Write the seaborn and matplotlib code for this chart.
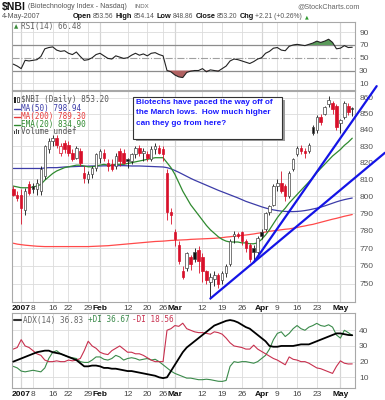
import numpy as np
import pandas as pd
import matplotlib
matplotlib.use("Agg")
import matplotlib.pyplot as plt
import seaborn as sns
from matplotlib.patches import Rectangle
from matplotlib.lines import Line2D
from matplotlib.ticker import NullLocator

# trading days on the chart (Dec 28 2006 .. May 4 2007)
holidays = ["2007-01-01", "2007-01-02", "2007-01-15", "2007-02-19", "2007-04-06"]
dates = pd.bdate_range("2006-12-28", "2007-05-04").drop(pd.to_datetime(holidays))

opens = [804, 801, 801, 792, 807, 806, 804, 803, 812, 828, 833, 835, 826, 832, 831, 826, 823, 827, 814, 810,
         813, 817, 823, 826, 820, 819, 818, 827, 826, 822, 821, 825, 829, 826, 825, 822, 828, 829, 828, 814,
         791, 779, 772, 757, 759, 765, 768, 769, 765, 757, 751, 753, 755, 752, 756, 761, 777, 778, 779, 774,
         772, 770, 768, 779, 781, 791, 795, 806, 808, 806, 800, 816, 825, 829, 827, 827, 842, 840, 848, 850,
         856, 857, 855, 844, 848, 855, 853.56]
highs = [806, 803, 804, 805, 809, 808, 810, 818, 831, 835, 837, 837, 832, 834, 833, 828, 830, 829, 818, 815,
         818, 826, 828, 828, 822, 822, 826, 829, 828, 823, 826, 830, 831, 829, 827, 830, 832, 831, 830, 816,
         793, 781, 774, 760, 768, 766, 770, 771, 767, 758, 756, 757, 756, 757, 761, 775, 780, 779, 780, 775,
         773, 772, 777, 781, 791, 795, 807, 810, 815, 807, 815, 823, 830, 831, 829, 832, 843, 849, 850, 855,
         861, 858, 856, 847, 858, 857, 854.14]
lows = [800, 797, 784, 789, 801, 802, 801, 801, 810, 826, 830, 829, 824, 826, 824, 821, 822, 818, 808, 808,
        811, 815, 820, 821, 815, 815, 816, 818, 819, 817, 819, 823, 824, 821, 821, 821, 825, 825, 821, 786,
        784, 771, 761, 753, 757, 758, 762, 756, 751, 750, 742, 749, 748, 750, 754, 760, 773, 776, 772, 768,
        762, 762, 766, 775, 780, 789, 794, 803, 802, 797, 799, 815, 824, 825, 823, 826, 837, 838, 843, 849,
        854, 850, 840, 838, 847, 849, 848.86]
closes = [801, 799, 793, 803, 802, 804, 808, 816, 830, 833, 835, 831, 830, 828, 826, 822, 829, 820, 811, 813,
          817, 825, 827, 823, 818, 816, 824, 821, 820, 821, 825, 829, 826, 827, 823, 828, 830, 826, 825, 791,
          789, 775, 763, 754, 767, 761, 764, 763, 757, 752, 754, 755, 750, 756, 760, 774, 778, 777, 774, 770,
          764, 768, 776, 777, 790, 794, 806, 808, 803, 800, 814, 822, 829, 827, 826, 831, 838, 848, 845, 854,
          859, 853, 842, 846, 857, 851, 853.20]
prev_close_start = 805

ma50 = [816.5, 816.5, 816.5, 816.5, 816.5, 816.5, 816.5, 816.5, 816.8, 817, 817, 817, 817.2, 817.4, 817.5,
        817.6, 817.7, 817.8, 817.8, 817.9, 818, 818, 818, 818.1, 818.1, 818.2, 818.2, 818.2, 818.2, 818.1,
        818, 818, 818, 817.9, 817.8, 817.7, 817.6, 817.5, 817.4, 817, 816.3, 815.3, 814.2, 813, 811.8,
        810.6, 809.5, 808.5, 807.5, 806.5, 805.5, 804.5, 803.5, 802.6, 801.7, 800.8, 799.9, 799, 798, 797,
        796.2, 795.4, 794.6, 793.8, 793.1, 792.5, 792, 791.6, 791.3, 791.1, 791, 791, 791.1, 791.3, 791.6,
        792, 792.5, 793, 793.6, 794.3, 795.1, 795.9, 796.7, 797.4, 798, 798.5, 798.94]
ma200 = [772.8, 772.3, 772, 771.7, 771.5, 771.3, 771.1, 771, 770.9, 770.9, 770.9, 770.9, 770.9, 770.9, 770.9,
         770.9, 770.9, 770.9, 770.9, 770.9, 771, 771.1, 771.2, 771.3, 771.4, 771.6, 771.8, 772, 772.2, 772.4,
         772.6, 772.8, 773, 773.2, 773.4, 773.6, 773.8, 773.9, 774, 774.2, 774.4, 774.5, 774.6, 774.7, 774.8,
         775, 775.1, 775.2, 775.3, 775.4, 775.5, 775.6, 775.8, 776, 776.3, 776.5, 776.8, 777, 777.3, 777.5,
         777.8, 778.1, 778.5, 778.8, 779.2, 779.6, 779.9, 780.2, 780.5, 780.8, 781, 781.4, 781.8, 782.3,
         782.7, 783.2, 783.6, 784.2, 784.8, 785.4, 786, 786.6, 787.1, 787.7, 788.3, 788.8, 789.3]
ema20 = [806, 805.5, 805, 805, 805, 805.5, 806, 807, 809.5, 811.5, 813.5, 815, 816, 817, 817.5, 818, 818.5,
         818.5, 818, 817.5, 817.5, 818, 818.5, 819, 818.5, 818.5, 819, 819, 819, 819.5, 820, 820.5, 821,
         821.5, 822, 822.5, 823, 823, 823, 820, 817, 813, 808, 803, 799, 795, 792, 789, 786, 783, 780.5,
         778.5, 776.5, 775, 774, 773.5, 773.5, 773.5, 773, 773, 772.5, 772.5, 773, 775, 777.5, 780.5, 784,
         787.5, 790.5, 793, 796, 798.5, 801, 803.5, 806, 808.5, 811, 814, 816.5, 819, 821.5, 824, 826,
         828, 830.5, 832.5, 834.9]

rsi = [40, 37, 33, 46, 45, 46, 47, 52, 64, 66, 67, 62, 60, 61, 57, 55, 59, 52, 46, 47, 50, 55, 57, 53, 49,
       48, 53, 51, 49, 50, 54, 57, 54, 56, 53, 57, 58, 55, 53, 30, 28, 23, 20, 19, 27, 29, 30, 30, 33, 28,
       31, 30, 29, 33, 37, 45, 48, 47, 45, 43, 41, 44, 48, 50, 57, 60, 65, 66, 62, 61, 68, 70, 71, 70, 69,
       71, 73, 76, 74, 76, 79, 74, 64, 65, 69, 66, 66.48]
adx = [20, 21, 22, 23, 24, 25, 26, 26.5, 27, 27, 26, 25.5, 25, 24, 23, 22, 21, 19, 17, 17, 17.5, 17.5, 17, 16,
       16, 15.5, 15.5, 15, 14.5, 14, 14, 13.5, 13, 12.5, 12, 11.5, 11, 10, 9.5, 10, 14, 18, 22, 26, 29, 31,
       33, 35, 37, 39, 41, 43, 44, 45, 46, 46.5, 46, 45, 43.5, 42, 41, 39, 37, 35, 33, 30, 29.5, 29.5, 30,
       30, 30, 30, 30.5, 31, 31, 31, 32, 33, 34, 35, 36, 37, 38, 38, 37.5, 37, 36.83]
plus_di = [17, 16, 14, 13.5, 14, 14.5, 14, 13.5, 16, 22, 26, 27, 25, 24, 23, 22.5, 22, 20, 19.5, 19.5, 21,
           23, 23, 21.5, 21, 22, 24, 23, 21, 22, 22.5, 22, 21, 21.5, 22, 21, 21.5, 20, 18, 16, 14, 12.5,
           11.5, 10.5, 9.5, 9.5, 9, 8.5, 8.5, 8.8, 8.5, 8, 7.5, 7.4, 8, 17, 20, 19.5, 20, 20, 19.5, 19, 20,
           22, 24, 28, 34, 38, 39, 36, 38, 41, 43, 41, 40, 42, 43, 44.4, 43, 42.5, 43.5, 42, 37, 35, 40,
           38.5, 36.67]
minus_di = [28, 29, 34, 30, 29, 27, 25, 24, 21, 20, 20, 20.5, 20, 20, 21, 20.5, 21, 22, 27, 33, 30, 28.5,
            26, 25, 24.5, 27, 28.5, 30, 28, 26, 26, 25, 25, 24, 22.5, 21, 20, 20, 20, 40, 41, 43, 42.5,
            44.5, 41, 40, 39, 38.5, 38.5, 38, 37.5, 39, 38.5, 37.5, 35, 32, 30, 29.5, 29, 28, 28, 30.5,
            28, 26.5, 25, 23.5, 22, 21, 19.5, 18, 23, 21.5, 21, 20, 20, 19, 17.5, 16, 15.5, 14.5, 13.5,
            12.5, 17, 20.5, 19, 18.5, 18.56]

# trendline anchors (day index, price)
trend1_x = [50, 94.3]
trend1_y = [742, 826]
trend2_x = [61, 92.2]
trend2_y = [762, 867.5]

tick_dates = ["2007-01-03", "2007-01-08", "2007-01-16", "2007-01-22", "2007-01-29", "2007-02-01",
              "2007-02-12", "2007-02-20", "2007-02-26", "2007-03-01", "2007-03-12", "2007-03-19",
              "2007-03-26", "2007-04-02", "2007-04-09", "2007-04-16", "2007-04-23", "2007-05-01"]
tick_labels = ["2007", "8", "16", "22", "29", "Feb", "12", "20", "26", "Mar", "12", "19", "26",
               "Apr", "9", "16", "23", "May"]
month_labels = ["2007", "Feb", "Mar", "Apr", "May"]
price_ticks = list(range(750, 861, 10))

note = "Biotechs have paced the way off of\nthe March lows.  How much higher\ncan they go from here?"

RED = "#d8102a"
BLUE_MA = "#3c3ca8"
RED_MA = "#ff4a4a"
GREEN_MA = "#2f8a2f"
GRID = "#dcdcdc"
MONO = "DejaVu Sans Mono"

sns.set_style("white")
plt.rcParams["font.family"] = ["Liberation Sans", "DejaVu Sans"]

W, H = 385, 400
fig = plt.figure(figsize=(W / 100, H / 100), dpi=100)
renderer = fig.canvas.get_renderer()


def box(l, t, r, b):
    return [l / W, 1 - b / H, (r - l) / W, (b - t) / H]


def ftext(x, y, s, **kw):
    kw.setdefault("va", "center")
    return fig.text(x / W, 1 - y / H, s, **kw)


def run_text(x0, y, parts):
    # place pieces of text one after another on a line
    xpos = x0
    for s, kw, gap in parts:
        t = ftext(xpos, y, s, **kw)
        xpos += t.get_window_extent(renderer=renderer).width + gap


ax_rsi = fig.add_axes(box(12, 22, 355, 90))
ax = fig.add_axes(box(12, 91, 355, 302))
ax_adx = fig.add_axes(box(12, 313, 355, 388))

x = np.arange(len(dates))
tick_pos = [dates.get_loc(pd.Timestamp(d)) for d in tick_dates]
month_pos = [p for p, lab in zip(tick_pos, tick_labels) if lab in month_labels]

for a in (ax_rsi, ax, ax_adx):
    a.set_xlim(-0.33, 86.7)
    a.set_xticks(tick_pos)
    a.grid(True, axis="x", color=GRID, lw=0.6)
    for p in month_pos:
        a.axvline(p, color="#b4b4b4", lw=0.8, zorder=0.5)
    for s in a.spines.values():
        s.set_color("#a8a8a8")
        s.set_linewidth(0.8)
    a.yaxis.tick_right()
    a.tick_params(axis="y", length=0, pad=3, labelsize=6, labelcolor="#555555")
    a.tick_params(axis="x", length=0, pad=2.5, labelsize=6, labelcolor="#444444")

# ---------------- RSI panel
rsi_arr = np.array(rsi)
ax_rsi.set_ylim(-0.5, 106)
ax_rsi.set_yticks([10, 30, 50, 70, 90])
for lv in (10, 90):
    ax_rsi.axhline(lv, color=GRID, lw=0.6, zorder=0.5)
ax_rsi.axhline(70, color="#8c8c8c", lw=0.9, zorder=1)
ax_rsi.axhline(30, color="#8c8c8c", lw=0.9, zorder=1)
ax_rsi.axhline(50, color="#a0a0a0", lw=0.8, ls="-.", zorder=1)
ax_rsi.fill_between(x, rsi_arr, 70, where=rsi_arr >= 70, interpolate=True, color="#5a9a5a", lw=0, zorder=2)
ax_rsi.fill_between(x, rsi_arr, 30, where=rsi_arr <= 30, interpolate=True, color="#b06060", lw=0, zorder=2)
sns.lineplot(x=x, y=rsi_arr, ax=ax_rsi, color="#222222", lw=0.8, legend=False, zorder=3)
ax_rsi.set_xticklabels([])
ax_rsi.set_xlabel("")

# ---------------- price panel
ax.set_yscale("log")
ax.set_ylim(740.1, 864.4)
ax.set_yticks(price_ticks)
ax.set_yticklabels([str(v) for v in price_ticks])
ax.yaxis.set_minor_locator(NullLocator())
ax.grid(True, axis="y", color=GRID, lw=0.6)

sns.lineplot(x=x, y=ma200, ax=ax, color=RED_MA, lw=0.9, legend=False, zorder=2)
sns.lineplot(x=x, y=ma50, ax=ax, color=BLUE_MA, lw=0.9, legend=False, zorder=2)
sns.lineplot(x=x, y=ema20, ax=ax, color=GREEN_MA, lw=0.9, legend=False, zorder=2)

cw = 0.62
prev = prev_close_start
for i in range(len(x)):
    o, h, l, c = opens[i], highs[i], lows[i], closes[i]
    col = RED if c < prev else "#111111"
    ax.vlines(i, l, h, color=col, lw=0.6, zorder=3)
    lo, hi = min(o, c), max(o, c)
    face = col if c < o else "white"
    edge = col if c < prev else "#444444"
    ax.add_patch(Rectangle((i - cw / 2, lo), cw, max(hi - lo, 0.4), facecolor=face,
                           edgecolor=edge, lw=0.5, zorder=4))
    prev = c

ax.plot(trend1_x, trend1_y, color="#1414e6", lw=1.6, clip_on=False, zorder=6)
ax.plot(trend2_x, trend2_y, color="#1414e6", lw=1.6, clip_on=False, zorder=6)

ax.set_xticklabels(tick_labels)
for t in ax.get_xticklabels():
    if t.get_text() in month_labels:
        t.set_fontweight("bold")
        t.set_color("#111111")
ax.set_xlabel("")

# ---------------- ADX panel
ax_adx.set_ylim(3.2, 51)
ax_adx.set_yticks([10, 20, 30, 40])
ax_adx.grid(True, axis="y", color=GRID, lw=0.6)
sns.lineplot(x=x, y=plus_di, ax=ax_adx, color="#3a8a4a", lw=0.8, legend=False, zorder=2)
sns.lineplot(x=x, y=minus_di, ax=ax_adx, color="#c8304e", lw=0.8, legend=False, zorder=2)
sns.lineplot(x=x, y=adx, ax=ax_adx, color="#000000", lw=1.3, legend=False, zorder=3)
ax_adx.set_xticklabels(tick_labels)
for t in ax_adx.get_xticklabels():
    if t.get_text() in month_labels:
        t.set_fontweight("bold")
        t.set_color("#111111")
ax_adx.set_xlabel("")

# ---------------- header
key = dict(fontsize=5.3, fontweight="bold", color="#111111")
val = dict(fontsize=4.9, color="#555555")
run_text(2, 7, [("$NBI", dict(fontsize=7.5, fontweight="bold", color="#111111"), 2),
                ("(Biotechnology Index - Nasdaq)", dict(fontsize=5, color="#555555"), 8),
                ("INDX", dict(fontsize=4.4, color="#666666"), 0)])
ftext(360, 7, "@StockCharts.com", fontsize=5.2, color="#666666", ha="right")
ftext(2, 17, "4-May-2007", fontsize=5.2, color="#555555")
run_text(73, 17, [("Open", key, 1.2), ("853.56", val, 2.5), ("High", key, 1.2), ("854.14", val, 2.5),
                  ("Low", key, 1.2), ("848.86", val, 2.5), ("Close", key, 1.2), ("853.20", val, 2.5),
                  ("Chg", key, 1.2), ("+2.21 (+0.26%)", val, 2.5),
                  ("\u25b2", dict(fontsize=3.5, color="#2e9a2e", family="DejaVu Sans"), 0)])

# RSI legend
ftext(14, 27, "\u25b2", fontsize=4, color="#3a8a3a", family="DejaVu Sans")
ftext(21, 27, "RSI(14) 66.48", fontsize=5.5, color="#666666", family=MONO)

# price legend
fig.add_artist(Rectangle((14 / W, 1 - 103 / H), 2 / W, 6 / H, facecolor="#222222", lw=0,
                         transform=fig.transFigure))
fig.add_artist(Rectangle((17 / W, 1 - 102 / H), 2 / W, 5 / H, facecolor="white", edgecolor="#222222",
                         lw=0.5, transform=fig.transFigure))
ftext(21, 100, "$NBI (Daily) 853.20", fontsize=5.5, color="#555555", family=MONO)
legend_rows = [(108.5, "MA(50) 798.94", BLUE_MA), (116.5, "MA(200) 789.30", "#e83838"),
               (124.5, "EMA(20) 834.90", GREEN_MA)]
for py, s, col in legend_rows:
    fig.add_artist(Line2D([14 / W, 20 / W], [1 - py / H, 1 - py / H], color=col, lw=1,
                          transform=fig.transFigure))
    ftext(21, py, s, fontsize=5.5, color=col, family=MONO)
for k, hgt in enumerate([3, 5, 4]):
    fig.add_artist(Rectangle(((14 + 2 * k) / W, 1 - 134 / H), 1.2 / W, hgt / H, facecolor="#444444",
                             lw=0, transform=fig.transFigure))
ftext(21, 132, "Volume undef", fontsize=5.5, color="#555555", family=MONO)

# annotation box
fig.add_artist(Rectangle((135.5 / W, 1 - 141 / H), 149 / W, 41 / H, facecolor="#9a9a9a", lw=0,
                         transform=fig.transFigure, zorder=7))
fig.add_artist(Rectangle((133 / W, 1 - 138.5 / H), 149 / W, 41 / H, facecolor="white",
                         edgecolor="#333333", lw=0.8, transform=fig.transFigure, zorder=8))
fig.text(135.5 / W, 1 - 98.5 / H, note, fontsize=5.9, fontweight="bold", color="#1a1aff",
         va="top", ha="left", linespacing=1.72, zorder=9)

# ADX legend
fig.add_artist(Line2D([14 / W, 21 / W], [1 - 320 / H, 1 - 320 / H], color="#333333", lw=1.5,
                      transform=fig.transFigure))
ftext(23, 320, "ADX(14) 36.83", fontsize=5.5, color="#666666", family=MONO)
ftext(88, 320, "+DI 36.67", fontsize=5.5, color="#3a8a4a", family=MONO)
ftext(132, 320, "-DI 18.56", fontsize=5.5, color="#c8304e", family=MONO)

fig.savefig("out.png", dpi=100)
